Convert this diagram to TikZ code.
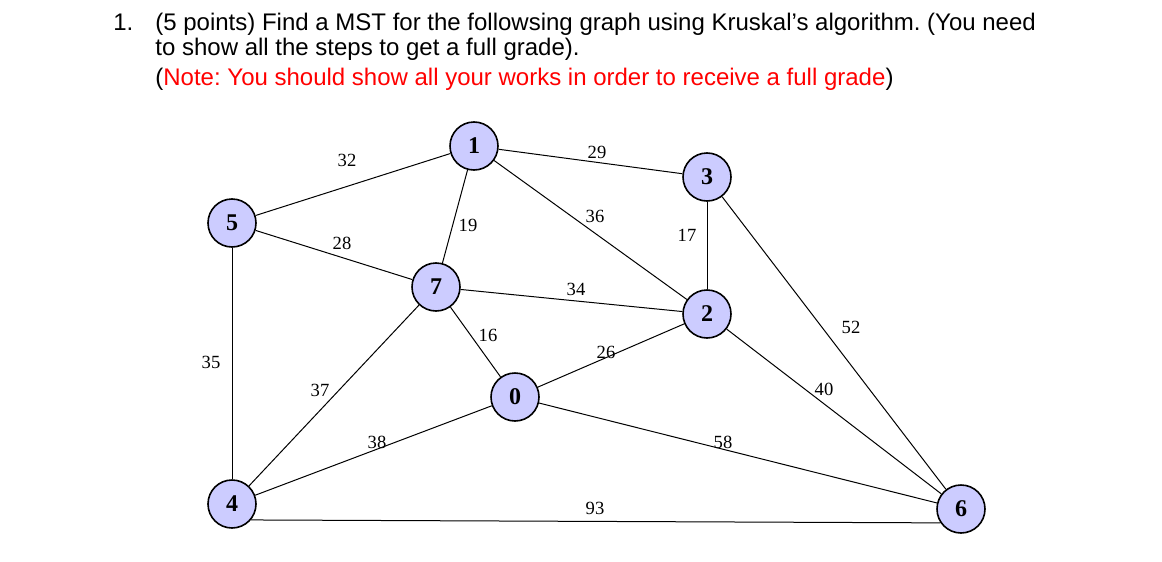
\documentclass[tikz,border=0pt]{standalone}
\usepackage{fontspec}
\setmainfont{Liberation Serif}
\newfontfamily\arialf{Liberation Sans}
\frenchspacing
\begin{document}
\begin{tikzpicture}[x=0.5pt,y=-0.5pt,
  vert/.style={circle,draw=black,line width=0.8pt,fill={rgb,255:red,204;green,204;blue,255},
    minimum size=24pt,inner sep=0pt,font=\fontsize{12}{12}\selectfont\bfseries},
  wlbl/.style={inner sep=0pt,font=\fontsize{9.3}{10}\selectfont},
  edge/.style={line width=0.5pt,black},
  qtext/.style={inner sep=0pt,anchor=base west,font=\arialf\fontsize{12}{14}\selectfont}]
\useasboundingbox (0,0) rectangle (1162,562);
% question text
\node[qtext] (num) at (113,30) {1.};
\node[qtext] (l1) at (155,30) {(5 points) Find a MST for the followsing graph using Kruskal’s algorithm. (You need};
\node[qtext] (l2) at (155,55) {to show all the steps to get a full grade).};
\node[qtext] (l3) at (155,85) {(\textcolor{red}{Note: You should show all your works in order to receive a full grade})};
% vertices
\node[vert] (1) at (474,146) {1};
\node[vert] (3) at (707,177) {3};
\node[vert] (5) at (232,223) {5};
\node[vert] (7) at (436,287) {7};
\node[vert] (2) at (707,314) {2};
\node[vert] (0) at (515,397) {0};
\node[vert] (4) at (232,504) {4};
\node[vert] (6) at (961,509) {6};
% edges
\draw[edge] (5) -- (1);
\draw[edge] (1) -- (3);
\draw[edge] (1) -- (2);
\draw[edge] (1) -- (7);
\draw[edge] (3) -- (2);
\draw[edge] (3) -- (6);
\draw[edge] (5) -- (7);
\draw[edge] (5) -- (4);
\draw[edge] (7) -- (2);
\draw[edge] (7) -- (0);
\draw[edge] (7) -- (4);
\draw[edge] (0) -- (2);
\draw[edge] (0) -- (4);
\draw[edge] (0) -- (6);
\draw[edge] (2) -- (6);
\draw[edge] (4.-40) -- (6.-146);
% weights
\node[wlbl] (w51) at (347,160) {32};
\node[wlbl] (w13) at (597,152) {29};
\node[wlbl] (w12) at (595,216) {36};
\node[wlbl] (w17) at (468,225) {19};
\node[wlbl] (w32) at (687,235) {17};
\node[wlbl] (w57) at (342,243) {28};
\node[wlbl] (w72) at (576,289) {34};
\node[wlbl] (w70) at (488,335) {16};
\node[wlbl] (w02) at (606,352) {26};
\node[wlbl] (w36) at (851,327) {52};
\node[wlbl] (w54) at (211,362) {35};
\node[wlbl] (w74) at (320,390) {37};
\node[wlbl] (w26) at (824,389) {40};
\node[wlbl] (w04) at (377,442) {38};
\node[wlbl] (w06) at (723,442) {58};
\node[wlbl] (w46) at (595,508) {93};
\end{tikzpicture}
\end{document}
